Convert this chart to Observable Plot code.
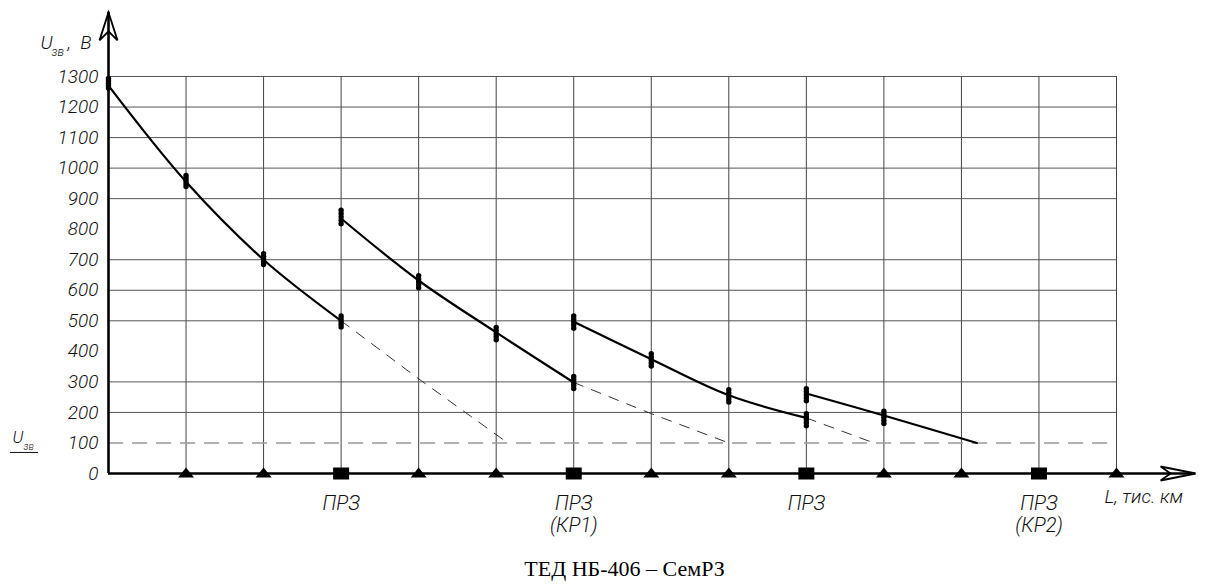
<!DOCTYPE html>
<html>
<head>
<meta charset="utf-8">
<script src="https://cdn.jsdelivr.net/npm/d3@7"></script>
<script src="https://cdn.jsdelivr.net/npm/@observablehq/plot@0.6"></script>
<style>
  html, body { margin: 0; padding: 0; background: #fff; }
  #chart svg { display: block; }
</style>
</head>
<body>
<div id="chart"></div>
<script>
// ---------- data ----------
const xGridL = [1, 2, 3, 4, 5, 6, 7, 8, 9, 10, 11, 12, 13];
const yTickValues = [0, 100, 200, 300, 400, 500, 600, 700, 800, 900, 1000, 1100, 1200, 1300];
const yGridValues = [200, 300, 500, 600, 700, 900, 1000, 1100, 1200, 1300];
const uThreshold = 100;

// solid curves (L in stations, U in V)
const curve1L = [0, 1, 2, 3];
const curve1U = [1270, 955, 700, 500];
const curve2L = [3, 4, 5, 6];
const curve2U = [835, 632, 462, 298];
const curve3L = [6, 7, 8, 9];
const curve3U = [497, 374, 256, 182];
const curve4L = [9, 10, 11.2];
const curve4U = [262, 190, 100];

// dashed continuations
const dash1L = [3, 4, 5.15];
const dash1U = [500, 310, 100];
const dash2L = [6, 7, 8];
const dash2U = [298, 196, 100];
const dash3L = [9, 9.87];
const dash3U = [182, 100];

// measured points (clusters)
const measL = [0,0,0,0,0, 1,1,1,1,1, 2,2,2,2,2, 3,3,3,3,3, 3,3,3,3,3, 4,4,4,4,4, 5,5,5,5,5,
               6,6,6,6,6, 6,6,6,6,6, 7,7,7,7,7, 8,8,8,8,8, 9,9,9,9,9, 9,9,9,9,9, 10,10,10,10,10];
const measU = [1262,1270,1278,1286,1294, 940,949,958,967,976, 684,693,702,711,720,
               480,489,498,507,516, 818,829,840,851,862, 608,618,628,638,648, 438,448,458,468,478,
               278,288,298,308,318, 476,486,496,506,516, 352,362,372,382,392, 234,244,254,264,274,
               156,166,176,186,196, 238,248,258,268,278, 164,174,184,194,204];

// stations on the L axis
const triangleL = [1, 2, 4, 5, 7, 8, 10, 11, 13];
const squareL = [3, 6, 9, 12];
const squareLabels = ["ПРЗ", "ПРЗ", "ПРЗ", "ПРЗ"];
const repairL = [6, 12];
const repairLabels = ["(КР1)", "(КР2)"];

const captionText = "ТЕД НБ-406 – СемРЗ";

// ---------- helpers ----------
const rows = (L, U) => L.map((l, i) => ({L: l, U: U[i]}));
const draft = "Roboto, 'Open Sans', 'DejaVu Sans', sans-serif";

const triSym = {draw(ctx) { ctx.moveTo(-8, 4); ctx.lineTo(0, -6); ctx.lineTo(8, 4); ctx.closePath(); }};
const sqSym = {draw(ctx) { ctx.rect(-8, -6, 16, 12); }};
const arrowUp = {draw(ctx) { ctx.moveTo(0, 0); ctx.lineTo(-9, 28); ctx.lineTo(0, 19); ctx.lineTo(9, 28); ctx.closePath(); }};
const arrowRight = {draw(ctx) { ctx.moveTo(0, 0); ctx.lineTo(-7, 35); ctx.lineTo(0, 25); ctx.lineTo(7, 35); ctx.closePath(); }};

const yAxisEnd = 1510;   // arrow tip beyond the grid
const xAxisEnd = 14.02;

const solid = {x: "L", y: "U", stroke: "#000", strokeWidth: 2.2, curve: "catmull-rom"};
const dashed = {x: "L", y: "U", stroke: "#333", strokeWidth: 1, strokeDasharray: "10,9"};
const italicText = {fontFamily: draft, fontStyle: "italic", fontWeight: 300, fill: "#111"};

// underline below the left-hand U_зв label, placed with the y scale
function uUnderline(index, scales) {
  const y = scales.y(uThreshold) + 10;
  const line = document.createElementNS("http://www.w3.org/2000/svg", "line");
  line.setAttribute("x1", 10); line.setAttribute("x2", 38);
  line.setAttribute("y1", y); line.setAttribute("y2", y);
  line.setAttribute("stroke", "#111"); line.setAttribute("stroke-width", 1);
  return line;
}

const chart = Plot.plot({
  width: 1208,
  height: 587,
  marginLeft: 108,
  marginRight: 92,
  marginTop: 76,
  marginBottom: 114,
  x: {domain: [0, 13], axis: null},
  y: {domain: [0, 1300], axis: null},
  style: {background: "#fff", overflow: "visible"},
  marks: [
    Plot.ruleX(xGridL, {y1: 0, y2: 1300, stroke: "#444", strokeWidth: 1}),
    Plot.ruleY(yGridValues, {x1: 0, x2: 13, stroke: "#555", strokeWidth: 1}),
    Plot.ruleY([uThreshold], {x1: 0, x2: 13, stroke: "#999", strokeWidth: 1.5, strokeDasharray: "15,9"}),
    Plot.line(rows(dash1L, dash1U), dashed),
    Plot.line(rows(dash2L, dash2U), dashed),
    Plot.line(rows(dash3L, dash3U), dashed),
    Plot.line(rows(curve1L, curve1U), solid),
    Plot.line(rows(curve2L, curve2U), solid),
    Plot.line(rows(curve3L, curve3U), solid),
    Plot.line(rows(curve4L, curve4U), solid),
    Plot.dot(rows(measL, measU), {x: "L", y: "U", r: 2.7, fill: "#000", stroke: "none"}),
    // axes
    Plot.ruleX([0], {y1: 0, y2: yAxisEnd, stroke: "#000", strokeWidth: 2.6}),
    Plot.ruleY([0], {x1: 0, x2: xAxisEnd, stroke: "#000", strokeWidth: 2.6}),
    Plot.dot([0], {x: 0, y: yAxisEnd, symbol: arrowUp, fill: "none", stroke: "#000", strokeWidth: 1.8}),
    Plot.dot([0], {x: xAxisEnd, y: 0, symbol: arrowRight, rotate: 90, fill: "none", stroke: "#000", strokeWidth: 1.8}),
    // stations
    Plot.dot(triangleL, {x: d => d, y: 0, symbol: triSym, fill: "#000", stroke: "none"}),
    Plot.dot(squareL, {x: d => d, y: 0, symbol: sqSym, fill: "#000", stroke: "none"}),
    Plot.text(squareL, {x: d => d, y: 0, text: (d, i) => squareLabels[i], dy: 30, lineAnchor: "middle",
      fontSize: 20, ...italicText}),
    Plot.text(repairL, {x: d => d, y: 0, text: (d, i) => repairLabels[i], dy: 52, lineAnchor: "middle",
      fontSize: 20, ...italicText}),
    // y tick labels
    Plot.text(yTickValues, {x: 0, y: d => d, text: d => String(d), dx: -10, textAnchor: "end",
      fontSize: 19, ...italicText}),
    // axis titles
    Plot.text(["L, тис. км"], {frameAnchor: "bottom-right", dx: -12, dy: 23, textAnchor: "start",
      lineAnchor: "middle", fontSize: 19, ...italicText}),
    Plot.text(["U"], {frameAnchor: "top-left", dx: -68, dy: -34, textAnchor: "start", lineAnchor: "middle", fontSize: 19, ...italicText}),
    Plot.text(["зв"], {frameAnchor: "top-left", dx: -57, dy: -24, textAnchor: "start", lineAnchor: "middle", fontSize: 12, ...italicText}),
    Plot.text([",  В"], {frameAnchor: "top-left", dx: -41, dy: -34, textAnchor: "start", lineAnchor: "middle", fontSize: 19, ...italicText}),
    Plot.text(["U"], {x: 0, y: uThreshold, dx: -96, dy: -5, textAnchor: "start", lineAnchor: "middle", fontSize: 17, ...italicText}),
    Plot.text(["зв"], {x: 0, y: uThreshold, dx: -85, dy: 4, textAnchor: "start", lineAnchor: "middle", fontSize: 10, ...italicText}),
    uUnderline,
    // caption
    Plot.text([captionText], {frameAnchor: "bottom", dx: 12, dy: 102, lineAnchor: "bottom",
      fontSize: 22, fontFamily: "'Liberation Serif', 'Times New Roman', serif", fill: "#000"})
  ]
});

document.getElementById("chart").appendChild(chart);
</script>
</body>
</html>
